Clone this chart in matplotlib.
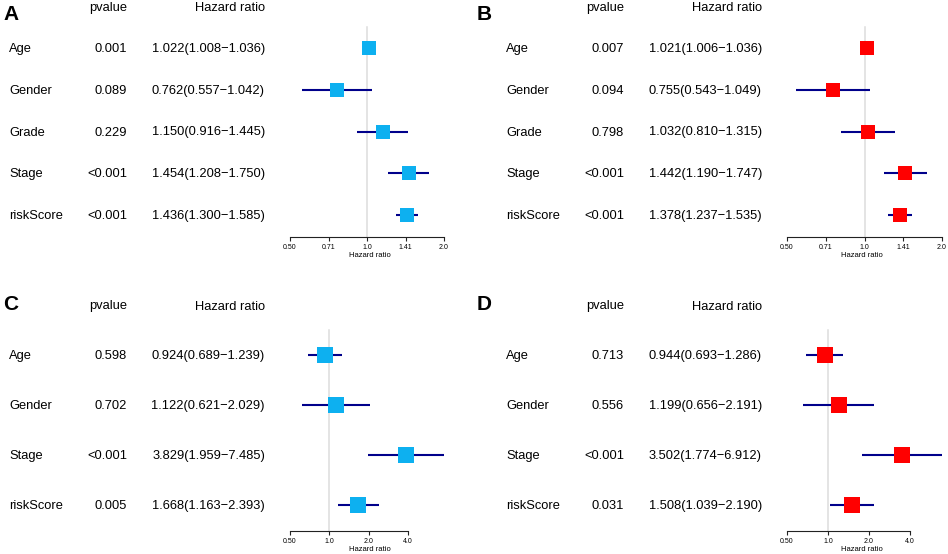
import numpy as np
import matplotlib.pyplot as plt
from matplotlib.ticker import FixedLocator, NullLocator

plt.rcParams['font.family'] = ['Liberation Sans', 'DejaVu Sans']

# ---- data ----
namesA = ['Age', 'Gender', 'Grade', 'Stage', 'riskScore']
pvalA = ['0.001', '0.089', '0.229', '<0.001', '<0.001']
hrA = [1.022, 0.762, 1.150, 1.454, 1.436]
lowA = [1.008, 0.557, 0.916, 1.208, 1.300]
highA = [1.036, 1.042, 1.445, 1.750, 1.585]

namesB = ['Age', 'Gender', 'Grade', 'Stage', 'riskScore']
pvalB = ['0.007', '0.094', '0.798', '<0.001', '<0.001']
hrB = [1.021, 0.755, 1.032, 1.442, 1.378]
lowB = [1.006, 0.543, 0.810, 1.190, 1.237]
highB = [1.036, 1.049, 1.315, 1.747, 1.535]

namesC = ['Age', 'Gender', 'Stage', 'riskScore']
pvalC = ['0.598', '0.702', '<0.001', '0.005']
hrC = [0.924, 1.122, 3.829, 1.668]
lowC = [0.689, 0.621, 1.959, 1.163]
highC = [1.239, 2.029, 7.485, 2.393]

namesD = ['Age', 'Gender', 'Stage', 'riskScore']
pvalD = ['0.713', '0.556', '<0.001', '0.031']
hrD = [0.944, 1.199, 3.502, 1.508]
lowD = [0.693, 0.656, 1.774, 1.039]
highD = [1.286, 2.191, 6.912, 2.190]

ticks_top = [0.5, 2 ** -0.5, 1.0, 2 ** 0.5, 2.0]
labels_top = ['0.50', '0.71', '1.0', '1.41', '2.0']
ticks_bot = [0.5, 1.0, 2.0, 4.0]
labels_bot = ['0.50', '1.0', '2.0', '4.0']

W, H = 948, 554
fig = plt.figure(figsize=(W / 100, H / 100), dpi=100)
txt = fig.add_axes([0, 0, 1, 1])
txt.set_xlim(0, W)
txt.set_ylim(H, 0)
txt.axis('off')

FS = 9.3


def panel(letter, letter_x, letter_y, dx, row0, step, axis_y,
          names, pvals, hr, lo, hi, color, ms, ticks, tlabels, x05, ppd):
    rows = np.arange(len(names))
    # table part
    txt.text(letter_x, letter_y, letter, fontsize=15, fontweight='bold',
             ha='left', va='center')
    txt.text(dx + 127, row0 - step + 1.5, 'pvalue', fontsize=FS, ha='right', va='center')
    txt.text(dx + 265, row0 - step + 1.5, 'Hazard ratio', fontsize=FS, ha='right', va='center')
    for i in rows:
        y = row0 + i * step + 1
        txt.text(dx + 9, y, names[i], fontsize=FS, ha='left', va='center')
        txt.text(dx + 127, y, pvals[i], fontsize=FS, ha='right', va='center')
        s = f'{hr[i]:.3f}({lo[i]:.3f}\u2212{hi[i]:.3f})'
        txt.text(dx + 265, y, s, fontsize=FS, ha='right', va='center')

    # forest part
    left_px = dx + 278
    right_px = min(dx + 462, W)
    top_px = row0 - 1.2 * step
    ax = fig.add_axes([left_px / W, 1 - axis_y / H,
                       (right_px - left_px) / W, (axis_y - top_px) / H])
    ax.set_xscale('log', base=2)
    ax.set_xlim(0.5 * 2 ** ((left_px - x05) / ppd), 0.5 * 2 ** ((right_px - x05) / ppd))
    ybot = (axis_y - row0) / step
    ax.set_ylim(ybot, (top_px - row0) / step)
    ax.patch.set_alpha(0)

    ax.plot([1, 1], [-0.5, ybot], color='#dcdcdc', lw=1.1, zorder=1, clip_on=False)
    ax.hlines(rows, lo, hi, color='#00008B', lw=1.5, zorder=2)
    ax.plot(hr, rows, 's', color=color, ms=ms, mew=0, zorder=3)

    for sp in ['top', 'right', 'left']:
        ax.spines[sp].set_visible(False)
    ax.spines['bottom'].set_bounds(ticks[0], ticks[-1])
    ax.spines['bottom'].set_linewidth(0.8)
    ax.spines['bottom'].set_color('#222222')
    ax.xaxis.set_major_locator(FixedLocator(ticks))
    ax.xaxis.set_minor_locator(NullLocator())
    ax.set_xticklabels(tlabels)
    ax.set_yticks([])
    ax.tick_params(axis='x', length=3, width=0.8, color='#222222',
                   labelsize=5, pad=2.2)
    ax.set_xlabel('Hazard ratio', fontsize=5.5, labelpad=0.5)


panel('A', 3, 15, 0, 48, 41.75, 237, namesA, pvalA, hrA, lowA, highA,
      '#0DB0F0', 10, ticks_top, labels_top, 290, 77)
panel('B', 477, 15, 497, 48, 41.75, 237, namesB, pvalB, hrB, lowB, highB,
      '#FF0000', 10, ticks_top, labels_top, 787, 77.5)
panel('C', 3, 305, 0, 355, 50, 531, namesC, pvalC, hrC, lowC, highC,
      '#0DB0F0', 11.5, ticks_bot, labels_bot, 290, 39.4)
panel('D', 477, 305, 497, 355, 50, 531, namesD, pvalD, hrD, lowD, highD,
      '#FF0000', 11.5, ticks_bot, labels_bot, 787, 41)

fig.savefig('out.png', dpi=100)
